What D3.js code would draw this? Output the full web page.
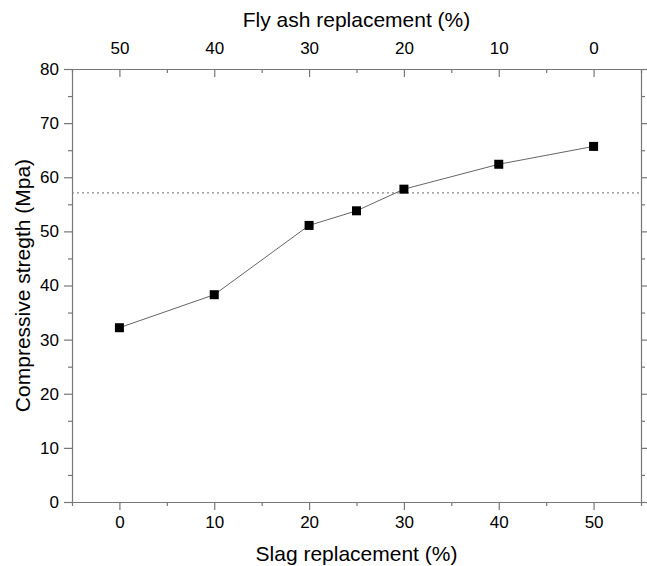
<!DOCTYPE html>
<html>
<head>
<meta charset="utf-8">
<script src="https://cdn.jsdelivr.net/npm/d3@7"></script>
<style>
  body { margin: 0; background: #fff; }
  text { font-family: "Liberation Sans", Arial, sans-serif; fill: #000; }
</style>
</head>
<body>
<div id="chart"></div>
<script>
var width = 647, height = 566;

// data
const slag = [0, 10, 20, 25, 30, 40, 50];
const strength = [32.2, 38.3, 51.1, 53.8, 57.8, 62.4, 65.7];
const refLine = 57.1;
const bottomTicks = [0, 10, 20, 30, 40, 50];
const topTicks = [50, 40, 30, 20, 10, 0];
const yTicks = [0, 10, 20, 30, 40, 50, 60, 70, 80];

const margin = {top: 69, right: 6, bottom: 64, left: 72};

const x = d3.scaleLinear().domain([-5, 55]).range([margin.left, width - margin.right]);
const xTop = d3.scaleLinear().domain([55, -5]).range([margin.left, width - margin.right]);
const y = d3.scaleLinear().domain([0, 80]).range([height - margin.bottom, margin.top]);

const svg = d3.select("#chart").append("svg")
    .attr("width", width)
    .attr("height", height);

const axisColor = "#777";

function styleAxis(g) {
  g.selectAll(".domain").attr("stroke", axisColor).attr("stroke-width", 1.2);
  g.selectAll(".tick line").attr("stroke", axisColor).attr("stroke-width", 1.2);
  g.selectAll(".tick text").style("font-size", "17px").attr("fill", "#000");
}

// minor ticks
function minor(g, axis) {
  g.call(axis.tickSizeOuter(0).tickFormat(""));
  g.selectAll(".domain").remove();
  g.selectAll(".tick line").attr("stroke", axisColor).attr("stroke-width", 1.2);
}

// bottom axis
svg.append("g")
    .attr("transform", "translate(0," + (height - margin.bottom) + ")")
    .call(minor, d3.axisBottom(x).tickValues(d3.range(-5, 56, 10)).tickSize(4));
svg.append("g")
    .attr("transform", "translate(0," + (height - margin.bottom) + ")")
    .call(d3.axisBottom(x).tickValues(bottomTicks).tickSize(8).tickSizeOuter(0).tickPadding(6))
    .call(styleAxis);

// top axis (ticks inward)
svg.append("g")
    .attr("transform", "translate(0," + margin.top + ")")
    .call(minor, d3.axisBottom(xTop).tickValues(d3.range(-5, 56, 10)).tickSize(4));
svg.append("g")
    .attr("transform", "translate(0," + margin.top + ")")
    .call(d3.axisTop(xTop).tickValues(topTicks).tickSize(-8).tickSizeOuter(0).tickPadding(15))
    .call(styleAxis);

// left axis
svg.append("g")
    .attr("transform", "translate(" + margin.left + ",0)")
    .call(minor, d3.axisLeft(y).tickValues(d3.range(5, 80, 10)).tickSize(4));
svg.append("g")
    .attr("transform", "translate(" + margin.left + ",0)")
    .call(d3.axisLeft(y).tickValues(yTicks).tickSize(8).tickSizeOuter(0).tickPadding(5))
    .call(styleAxis);

// right axis (no labels)
svg.append("g")
    .attr("transform", "translate(" + (width - margin.right) + ",0)")
    .call(minor, d3.axisRight(y).tickValues(d3.range(5, 80, 10)).tickSize(4));
svg.append("g")
    .attr("transform", "translate(" + (width - margin.right) + ",0)")
    .call(d3.axisRight(y).tickValues(yTicks).tickSize(8).tickSizeOuter(0).tickFormat(""))
    .call(styleAxis);

// reference dotted line
svg.append("line")
    .attr("x1", x(-5)).attr("x2", x(55))
    .attr("y1", y(refLine)).attr("y2", y(refLine))
    .attr("stroke", "#888")
    .attr("stroke-width", 1.2)
    .attr("stroke-dasharray", "2,3");

// series line
const pts = slag.map((s, i) => ({s: s, v: strength[i]}));
svg.append("path")
    .datum(pts)
    .attr("fill", "none")
    .attr("stroke", "#666")
    .attr("stroke-width", 1)
    .attr("d", d3.line().x(d => x(d.s)).y(d => y(d.v)));

const sz = 9;
svg.selectAll("rect.pt")
    .data(pts)
    .join("rect")
    .attr("class", "pt")
    .attr("x", d => x(d.s) - sz / 2)
    .attr("y", d => y(d.v) - sz / 2)
    .attr("width", sz)
    .attr("height", sz)
    .attr("fill", "#000");

// titles
const cx = (margin.left + width - margin.right) / 2;
svg.append("text")
    .attr("x", cx)
    .attr("y", 561)
    .attr("text-anchor", "middle")
    .style("font-size", "21px")
    .text("Slag replacement (%)");

svg.append("text")
    .attr("x", cx)
    .attr("y", 27)
    .attr("text-anchor", "middle")
    .style("font-size", "21px")
    .text("Fly ash replacement (%)");

svg.append("text")
    .attr("transform", "translate(30," + (margin.top + height - margin.bottom) / 2 + ") rotate(-90)")
    .attr("text-anchor", "middle")
    .style("font-size", "21px")
    .text("Compressive stregth (Mpa)");
</script>
</body>
</html>
